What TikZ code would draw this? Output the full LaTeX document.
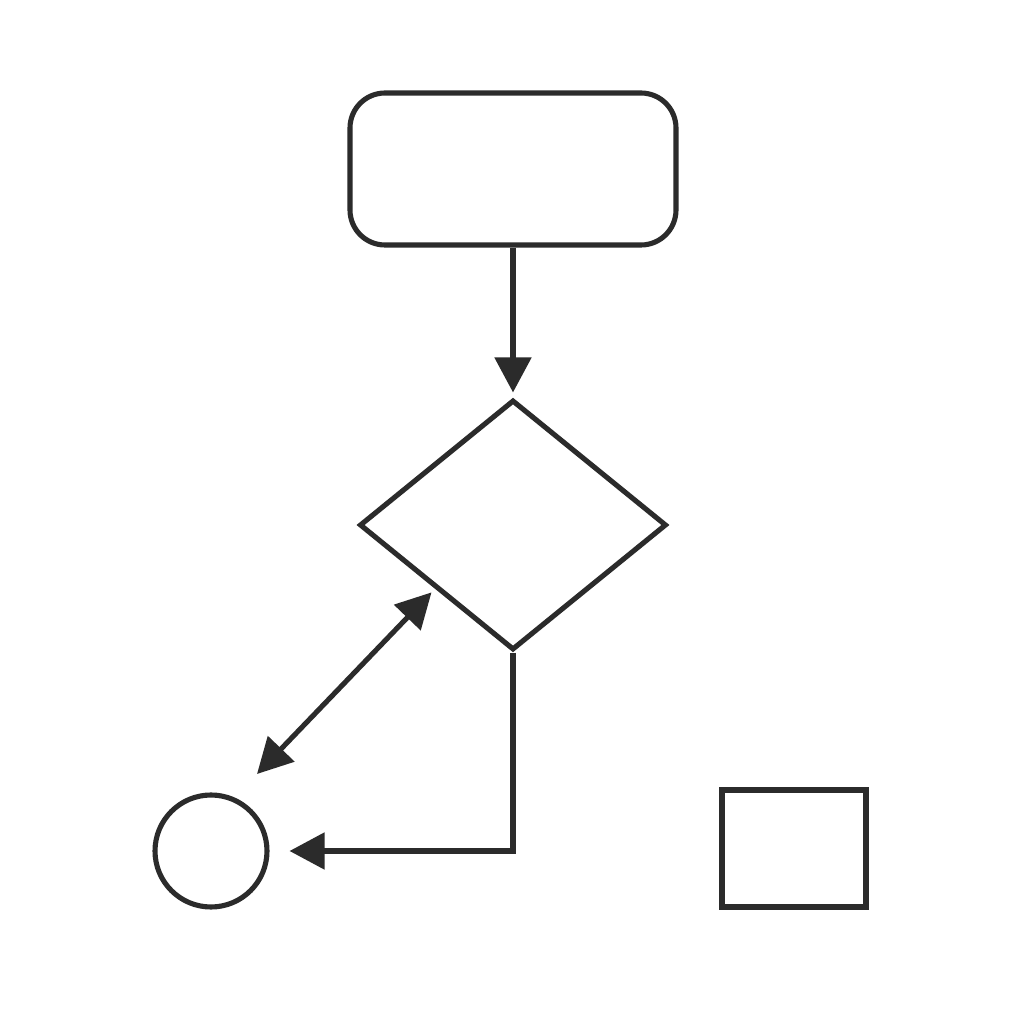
\documentclass[tikz,border=0pt]{standalone}
\usepackage{tikz}
\usetikzlibrary{positioning}
\usetikzlibrary{shapes.geometric,arrows.meta}
\usepackage{xcolor}
\definecolor{ink}{HTML}{2B2B2B}

\begin{document}
\begin{tikzpicture}[
		roundednode/.style={rectangle, rounded corners=3.5mm, draw=ink, line width=1.45pt, minimum width=3.26cm, minimum height=1.52cm},
		diamondnode/.style={diamond, draw=ink, line width=1.45pt, inner sep=0pt, minimum width=3.07cm, minimum height=2.5cm},
		roundnode/.style={circle, draw=ink, line width=1.45pt, minimum size=1.12cm},
		squarednode/.style={rectangle, draw=ink, line width=1.45pt, minimum width=1.44cm, minimum height=1.17cm},
		arr/.style={draw=ink, line width=1.45pt, -{Triangle[length=3.5mm, width=3.6mm]}},
		]
		\useasboundingbox[fill=white] (0,0) rectangle (10.24,10.24);
		%Nodes
		\node[roundednode]   (start)    at (5.13,8.55)  {};
		\node[diamondnode]   (decision) at (5.13,4.99)  {};
		\node[roundnode]     (end)      at (2.11,1.73)  {};
		\node[squarednode]   (other)    at (7.94,1.755) {};
		\coordinate          (free-end) at (2.57,2.50);
		
		%Lines
		\draw[arr, shorten >=0.5mm] (start.south) -- (decision.north);
		\draw[arr, {Triangle[length=3.5mm, width=3.6mm]}-{Triangle[length=3.5mm, width=3.6mm]}, shorten <=0.5mm] (decision.south west) -- (free-end);
		\draw[arr, shorten >=2mm] (decision.south) |- (end.east);
	\end{tikzpicture}
\end{document}
